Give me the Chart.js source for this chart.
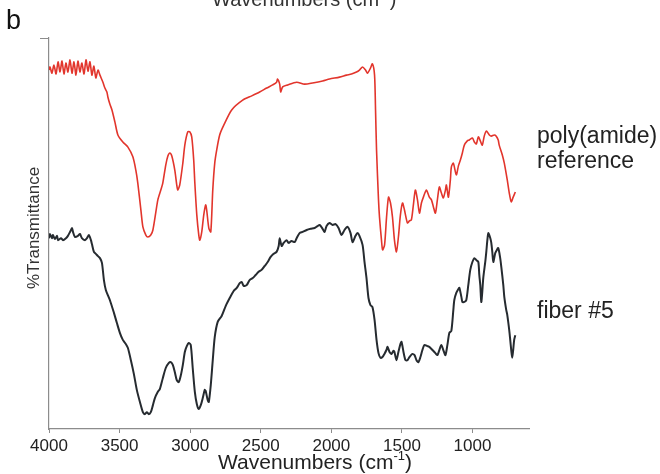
<!DOCTYPE html>
<html>
<head>
<meta charset="utf-8">
<script src="https://cdn.jsdelivr.net/npm/chart.js@4.4.1/dist/chart.umd.min.js"></script>
<style>
  html, body { margin: 0; padding: 0; background: #fff; }
  #wrap { width: 660px; height: 474px; position: relative; }
</style>
</head>
<body>
<div id="wrap"><canvas id="irChart" width="660" height="474"></canvas></div>
<script>
// wavenumber ticks shown under the spectra
const xTicks = [4000, 3500, 3000, 2500, 2000, 1500, 1000];

// poly(amide) reference spectrum (upper trace)
const refWn = [4000, 3993, 3979, 3965, 3950, 3936, 3922, 3908, 3894, 3880, 3866, 3851, 3837, 3823, 3809, 3795, 3781, 3767, 3752, 3738, 3724, 3710, 3696, 3682, 3668, 3653, 3639, 3618, 3604, 3590, 3583, 3569, 3554, 3533, 3512, 3477, 3441, 3406, 3385, 3371, 3349, 3335, 3314, 3300, 3279, 3264, 3243, 3229, 3208, 3194, 3173, 3158, 3144, 3130, 3109, 3095, 3088, 3074, 3052, 3038, 3017, 3003, 2989, 2975, 2967, 2953, 2939, 2932, 2918, 2904, 2890, 2883, 2868, 2854, 2840, 2826, 2812, 2791, 2762, 2706, 2628, 2564, 2508, 2458, 2416, 2388, 2381, 2366, 2359, 2345, 2310, 2246, 2190, 2133, 2062, 2013, 1942, 1893, 1857, 1822, 1801, 1779, 1758, 1744, 1723, 1709, 1694, 1687, 1680, 1666, 1659, 1645, 1637, 1623, 1609, 1595, 1581, 1567, 1553, 1539, 1525, 1511, 1496, 1482, 1461, 1447, 1433, 1419, 1405, 1390, 1376, 1362, 1348, 1327, 1306, 1291, 1277, 1263, 1249, 1235, 1221, 1207, 1192, 1185, 1171, 1157, 1150, 1136, 1115, 1100, 1086, 1072, 1058, 1037, 1023, 1001, 987, 973, 959, 945, 931, 917, 902, 881, 867, 846, 832, 818, 811, 789, 775, 754, 740, 726, 712, 697];
const refT = [91.8, 92.6, 91.0, 93.1, 90.8, 93.9, 91.3, 94.1, 90.8, 93.6, 91.3, 94.4, 91.0, 93.9, 90.5, 94.1, 91.3, 93.6, 90.8, 94.4, 91.5, 93.9, 90.5, 92.8, 89.8, 91.8, 90.5, 88.7, 87.2, 86.2, 84.9, 83.1, 81.6, 78.5, 75.2, 73.4, 72.1, 69.6, 66.2, 62.9, 56.0, 51.7, 49.6, 49.1, 49.6, 50.9, 55.5, 58.6, 61.1, 62.9, 67.5, 69.8, 70.6, 69.8, 66.2, 62.4, 61.1, 62.4, 68.0, 72.6, 76.0, 76.0, 74.7, 68.8, 62.9, 54.7, 49.6, 48.3, 50.4, 54.7, 57.3, 56.0, 51.4, 50.4, 61.1, 68.0, 71.4, 75.2, 77.7, 81.6, 84.1, 85.2, 86.2, 87.2, 88.0, 88.7, 89.5, 88.2, 86.2, 87.5, 88.0, 88.7, 88.2, 88.5, 89.0, 89.5, 90.0, 90.5, 90.8, 91.3, 91.8, 92.6, 91.8, 91.0, 92.3, 93.4, 90.5, 81.6, 71.4, 58.6, 54.2, 48.3, 45.8, 47.1, 54.2, 59.3, 57.8, 54.2, 48.3, 45.3, 49.1, 54.7, 57.8, 56.0, 52.7, 53.2, 53.5, 57.3, 61.1, 58.6, 55.2, 57.8, 59.3, 61.1, 59.3, 58.6, 56.8, 55.2, 58.6, 61.9, 60.4, 59.1, 61.1, 62.4, 59.3, 63.7, 67.0, 68.0, 65.0, 67.3, 68.8, 70.6, 72.6, 73.7, 73.9, 74.4, 73.4, 72.9, 74.7, 73.7, 72.6, 74.9, 76.2, 75.2, 74.9, 75.2, 74.9, 73.9, 72.6, 70.1, 68.0, 63.7, 60.4, 58.1, 59.3, 60.6];

// fiber #5 spectrum (lower trace)
const fiberWn = [4000, 3993, 3979, 3972, 3958, 3943, 3936, 3915, 3901, 3880, 3866, 3851, 3837, 3830, 3816, 3795, 3781, 3767, 3745, 3731, 3717, 3703, 3696, 3682, 3668, 3653, 3639, 3625, 3611, 3597, 3569, 3540, 3519, 3498, 3477, 3455, 3441, 3420, 3399, 3378, 3356, 3335, 3321, 3307, 3293, 3279, 3264, 3250, 3229, 3215, 3194, 3173, 3151, 3137, 3123, 3109, 3095, 3081, 3067, 3052, 3038, 3024, 3010, 2996, 2982, 2967, 2953, 2939, 2925, 2911, 2897, 2890, 2876, 2868, 2854, 2840, 2826, 2805, 2777, 2748, 2720, 2692, 2670, 2649, 2635, 2621, 2600, 2579, 2557, 2536, 2515, 2494, 2472, 2451, 2430, 2409, 2388, 2373, 2366, 2352, 2338, 2317, 2303, 2282, 2260, 2246, 2225, 2204, 2175, 2147, 2119, 2098, 2083, 2062, 2048, 2034, 2013, 1991, 1970, 1949, 1928, 1907, 1885, 1864, 1850, 1829, 1815, 1801, 1779, 1765, 1751, 1737, 1723, 1709, 1694, 1680, 1666, 1652, 1638, 1624, 1610, 1602, 1588, 1574, 1560, 1553, 1539, 1525, 1511, 1503, 1489, 1475, 1461, 1447, 1426, 1411, 1397, 1383, 1369, 1355, 1341, 1320, 1306, 1284, 1263, 1249, 1235, 1221, 1207, 1192, 1178, 1164, 1150, 1136, 1129, 1115, 1100, 1093, 1079, 1072, 1058, 1044, 1030, 1016, 1001, 987, 973, 959, 952, 945, 938, 931, 924, 909, 902, 895, 888, 874, 867, 860, 853, 839, 832, 818, 804, 796, 782, 775, 761, 754, 740, 733, 726, 719, 712, 705, 697];
const fiberT = [48.8, 49.9, 48.8, 49.6, 48.6, 49.4, 48.3, 48.8, 48.3, 48.8, 49.4, 50.4, 51.4, 50.4, 49.1, 49.4, 49.9, 48.8, 48.3, 48.8, 49.6, 48.3, 47.3, 45.3, 44.8, 44.2, 43.7, 42.5, 38.1, 35.5, 33.0, 29.7, 27.1, 24.6, 22.8, 21.7, 20.7, 17.6, 14.1, 10.0, 6.9, 4.3, 3.8, 4.3, 3.8, 4.3, 6.1, 7.9, 9.5, 10.2, 13.0, 15.6, 16.9, 17.1, 16.4, 14.6, 12.5, 12.0, 13.6, 16.4, 19.7, 21.2, 22.0, 21.5, 15.6, 9.5, 6.4, 5.1, 6.1, 7.9, 10.0, 9.7, 7.4, 6.9, 11.3, 17.6, 23.5, 27.4, 28.9, 31.5, 33.5, 35.3, 36.1, 37.3, 37.6, 36.6, 36.8, 38.1, 38.6, 39.4, 40.2, 40.7, 41.7, 42.7, 44.0, 44.8, 45.3, 46.8, 48.8, 46.8, 47.6, 48.3, 47.6, 48.1, 47.8, 48.8, 50.1, 50.4, 50.9, 51.2, 51.4, 51.9, 52.2, 51.2, 50.4, 51.9, 52.7, 52.2, 52.4, 51.4, 49.6, 50.9, 51.7, 50.1, 47.8, 49.4, 50.1, 49.4, 47.1, 42.7, 38.6, 33.5, 31.7, 31.2, 27.9, 22.8, 19.4, 18.2, 18.4, 19.2, 20.2, 21.0, 19.7, 19.2, 20.0, 19.7, 17.6, 19.7, 21.7, 22.3, 19.7, 17.6, 17.6, 18.4, 19.2, 18.9, 17.6, 17.1, 18.4, 20.2, 21.5, 21.2, 21.0, 20.2, 19.4, 18.9, 20.2, 21.5, 20.2, 18.9, 21.5, 24.6, 25.1, 30.4, 33.0, 34.8, 35.8, 36.1, 33.8, 32.5, 32.5, 33.0, 36.8, 40.7, 42.7, 43.7, 43.2, 42.7, 39.4, 36.8, 32.5, 35.0, 38.6, 43.0, 45.5, 48.3, 50.1, 48.8, 47.6, 45.3, 42.7, 45.0, 45.5, 46.3, 43.7, 41.4, 36.8, 33.8, 30.4, 29.2, 25.3, 22.8, 20.2, 18.2, 20.2, 22.8, 24.0];

const toPoints = (wn, t) => wn.map((x, i) => ({ x: x, y: t[i] }));

const FONT = "'Liberation Sans', Arial, Helvetica, sans-serif";

// draws the panel letter, axis titles and the trace names
const textPlugin = {
  id: "panelText",
  afterDraw(chart) {
    const ctx = chart.ctx;
    ctx.save();
    ctx.textBaseline = "alphabetic";
    ctx.textAlign = "left";

    // panel letter
    ctx.fillStyle = "#111";
    ctx.font = "27px " + FONT;
    ctx.fillText("b", 6, 29);

    // axis title of the panel above (cut at the top edge)
    ctx.fillStyle = "#333";
    drawWavenumberTitle(ctx, 212, 6, 20);

    // x axis title
    ctx.fillStyle = "#222";
    drawWavenumberTitle(ctx, 218, 469, 21);

    // y axis title
    ctx.save();
    ctx.translate(39, 228);
    ctx.rotate(-Math.PI / 2);
    ctx.textAlign = "center";
    ctx.fillStyle = "#333";
    ctx.font = "17px " + FONT;
    ctx.fillText("%Transmittance", 0, 0);
    ctx.restore();

    // trace names
    ctx.fillStyle = "#222";
    ctx.font = "23px " + FONT;
    ctx.fillText("poly(amide)", 537, 143);
    ctx.fillText("reference", 537, 168);
    ctx.fillText("fiber #5", 537, 318);
    ctx.restore();
  }
};

function drawWavenumberTitle(ctx, x, y, size) {
  ctx.font = size + "px " + FONT;
  const main = "Wavenumbers (cm";
  ctx.fillText(main, x, y);
  let cx = x + ctx.measureText(main).width;
  ctx.font = Math.round(size * 0.62) + "px " + FONT;
  ctx.fillText("-1", cx, y - size * 0.42);
  cx += ctx.measureText("-1").width;
  ctx.font = size + "px " + FONT;
  ctx.fillText(")", cx, y);
}

new Chart(document.getElementById("irChart"), {
  type: "line",
  data: {
    datasets: [
      {
        label: "poly(amide) reference",
        data: toPoints(refWn, refT),
        borderColor: "#e2352c",
        borderWidth: 1.6,
        pointRadius: 0,
        tension: 0.25,
        fill: false
      },
      {
        label: "fiber #5",
        data: toPoints(fiberWn, fiberT),
        borderColor: "#262b30",
        borderWidth: 2,
        pointRadius: 0,
        tension: 0.25,
        fill: false
      }
    ]
  },
  options: {
    responsive: false,
    animation: false,
    layout: { padding: { top: 38, right: 131, bottom: 0, left: 0 } },
    plugins: {
      legend: { display: false },
      tooltip: { enabled: false }
    },
    scales: {
      x: {
        type: "linear",
        reverse: true,
        min: 600,
        max: 4000,
        afterBuildTicks: axis => { axis.ticks = xTicks.map(v => ({ value: v })); },
        afterFit: axis => { axis.height = 45; },
        border: { color: "#8c8c8c", width: 1.2 },
        grid: { drawOnChartArea: false, drawTicks: true, tickLength: 4, color: "#8c8c8c" },
        ticks: {
          color: "#222",
          font: { family: FONT, size: 17 },
          padding: 3,
          maxRotation: 0,
          autoSkip: false,
          callback: v => String(v)
        }
      },
      y: {
        min: 0,
        max: 100,
        afterBuildTicks: axis => { axis.ticks = [{ value: 100 }]; },
        afterFit: axis => { axis.width = 49; },
        border: { color: "#8c8c8c", width: 1.2 },
        grid: { drawOnChartArea: false, drawTicks: true, tickLength: 9, color: "#8c8c8c" },
        ticks: { display: false }
      }
    }
  },
  plugins: [textPlugin]
});
</script>
</body>
</html>
